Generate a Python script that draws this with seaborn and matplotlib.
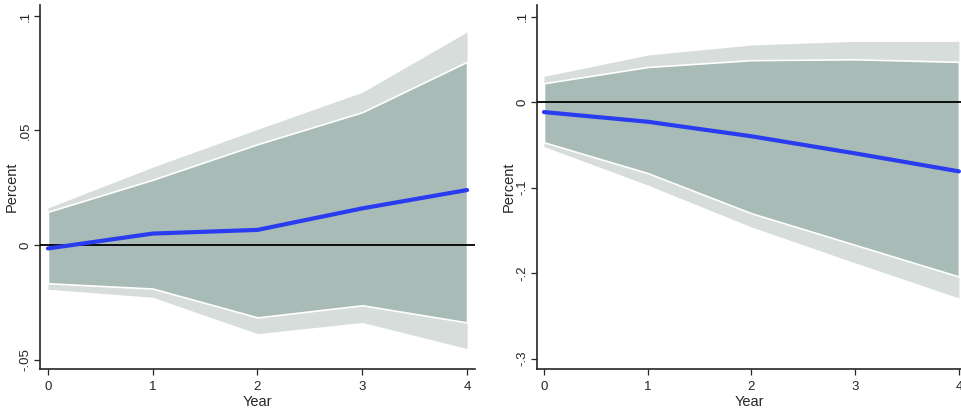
import numpy as np
import pandas as pd
import matplotlib
matplotlib.use("Agg")
import matplotlib.pyplot as plt
import seaborn as sns

# Years on the horizon
years = [0, 1, 2, 3, 4]

# Left panel: response and bands
left_irf = [-0.0015, 0.005, 0.0066, 0.016, 0.024]
left_inner_hi = [0.0145, 0.0285, 0.044, 0.058, 0.080]
left_inner_lo = [-0.0167, -0.019, -0.0316, -0.0263, -0.0338]
left_outer_hi = [0.0162, 0.034, 0.0505, 0.0667, 0.093]
left_outer_lo = [-0.0193, -0.0228, -0.0387, -0.0338, -0.0452]
left_yticks = [-0.05, 0, 0.05, 0.1]
left_ylabels = ["-.05", "0", ".05", ".1"]

# Right panel: response and bands
right_irf = [-0.0117, -0.023, -0.040, -0.060, -0.081]
right_inner_hi = [0.022, 0.041, 0.049, 0.050, 0.047]
right_inner_lo = [-0.047, -0.083, -0.130, -0.167, -0.204]
right_outer_hi = [0.030, 0.055, 0.0667, 0.071, 0.071]
right_outer_lo = [-0.052, -0.097, -0.146, -0.188, -0.229]
right_yticks = [-0.3, -0.2, -0.1, 0, 0.1]
right_ylabels = ["-.3", "-.2", "-.1", "0", ".1"]

sns.set_style("ticks")
plt.rcParams["font.family"] = ["Liberation Sans", "DejaVu Sans"]

fig = plt.figure(figsize=(9.61, 4.15), dpi=100)
ax1 = fig.add_axes([0.0416, 0.111, 0.4527, 0.877])
ax2 = fig.add_axes([0.5588, 0.111, 0.4412, 0.877])

outer_col = "#d6ddda"
inner_col = "#a9bbb6"


def draw_panel(ax, irf, ihi, ilo, ohi, olo, yt, yl, xlim, ylim):
    ax.fill_between(years, olo, ohi, color=outer_col, lw=0, zorder=1)
    ax.fill_between(years, ilo, ihi, facecolor=inner_col, edgecolor="white",
                    lw=1.2, zorder=2)
    ax.axhline(0, color="black", lw=1.3, zorder=3)
    df = pd.DataFrame({"Year": years, "irf": irf})
    sns.lineplot(data=df, x="Year", y="irf", ax=ax, color="#2a3cf0", lw=3,
                 zorder=4)
    ax.set_xlim(*xlim)
    ax.set_ylim(*ylim)
    ax.set_xticks(years)
    ax.set_yticks(yt)
    ax.set_yticklabels(yl, rotation=90, va="center")
    ax.set_xlabel("Year", fontsize=10.5, labelpad=1)
    ax.set_ylabel("Percent", fontsize=10.5, labelpad=1)
    ax.tick_params(labelsize=9.5, length=4, width=0.9, pad=2)
    ax.tick_params(axis="x", pad=5)
    sns.despine(ax=ax)
    for s in ["left", "bottom"]:
        ax.spines[s].set_linewidth(1.2)


draw_panel(ax1, left_irf, left_inner_hi, left_inner_lo, left_outer_hi,
           left_outer_lo, left_yticks, left_ylabels, (-0.076, 4.076),
           (-0.0541, 0.1048))
draw_panel(ax2, right_irf, right_inner_hi, right_inner_lo, right_outer_hi,
           right_outer_lo, right_yticks, right_ylabels, (-0.067, 4.02),
           (-0.312, 0.1135))

fig.savefig("out.png", dpi=100)
